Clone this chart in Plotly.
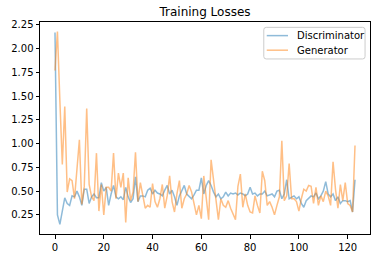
import plotly.graph_objects as go

epochs = list(range(124))

discriminator = [
    2.17, 0.25, 0.15, 0.28, 0.43, 0.37, 0.35, 0.45, 0.44, 0.50,
    0.44, 0.35, 0.52, 0.52, 0.37, 0.44, 0.47, 0.43, 0.43, 0.59,
    0.50, 0.54, 0.35, 0.47, 0.56, 0.44, 0.42, 0.44, 0.41, 0.54,
    0.44, 0.38, 0.42, 0.65, 0.39, 0.45, 0.45, 0.44, 0.51, 0.53,
    0.47, 0.51, 0.48, 0.47, 0.45, 0.51, 0.56, 0.47, 0.51, 0.44,
    0.35, 0.45, 0.50, 0.56, 0.47, 0.45, 0.42, 0.46, 0.51, 0.51,
    0.64, 0.47, 0.56, 0.61, 0.56, 0.49, 0.44, 0.47, 0.42, 0.44,
    0.49, 0.45, 0.48, 0.47, 0.48, 0.46, 0.48, 0.47, 0.45, 0.47,
    0.54, 0.47, 0.48, 0.45, 0.47, 0.47, 0.50, 0.45, 0.46, 0.47,
    0.44, 0.50, 0.51, 0.42, 0.47, 0.62, 0.42, 0.44, 0.45, 0.42,
    0.44, 0.37, 0.33, 0.40, 0.42, 0.45, 0.44, 0.48, 0.42, 0.45,
    0.50, 0.60, 0.47, 0.44, 0.47, 0.40, 0.44, 0.37, 0.40, 0.40,
    0.39, 0.40, 0.28, 0.62,
]

generator = [
    1.77, 2.18, 1.45, 0.78, 1.39, 0.49, 0.63, 0.61, 0.42, 0.74,
    1.04, 0.36, 0.55, 1.37, 0.57, 0.44, 0.40, 0.90, 0.29, 0.57,
    0.25, 0.54, 0.54, 0.50, 0.90, 0.42, 0.69, 0.54, 0.69, 0.17,
    0.64, 0.40, 0.49, 0.91, 0.39, 0.59, 0.45, 0.32, 0.35, 0.33,
    0.58, 0.39, 0.33, 0.42, 0.57, 0.32, 0.45, 0.66, 0.39, 0.28,
    0.47, 0.61, 0.32, 0.42, 0.47, 0.56, 0.49, 0.37, 0.25, 0.35,
    0.21, 0.66, 0.42, 0.20, 0.83, 0.62, 0.45, 0.20, 0.42, 0.35,
    0.33, 0.40, 0.32, 0.25, 0.20, 0.55, 0.68, 0.33, 0.47, 0.35,
    0.28, 0.27, 0.45, 0.35, 0.27, 0.71, 0.61, 0.35, 0.39, 0.33,
    0.25, 0.35, 0.44, 1.03, 0.40, 0.45, 0.79, 0.42, 0.42, 0.39,
    0.29, 0.42, 0.52, 0.50, 0.56, 0.55, 0.37, 0.54, 0.35, 0.45,
    0.39, 0.50, 0.45, 0.35, 0.81, 0.52, 0.32, 0.57, 0.40, 0.59,
    0.37, 0.35, 0.28, 0.98,
]

series_names = ["Discriminator", "Generator"]
series_colors = ["rgba(31,119,180,0.5)", "rgba(255,127,14,0.5)"]

y_ticks = [0.25, 0.50, 0.75, 1.00, 1.25, 1.50, 1.75, 2.00, 2.25]
x_ticks = [0, 20, 40, 60, 80, 100, 120]

fig = go.Figure()
for name, vals, col in zip(series_names, [discriminator, generator], series_colors):
    fig.add_trace(go.Scatter(x=epochs, y=vals, mode="lines", name=name,
                             line=dict(color=col, width=1.5), showlegend=False))

n = len(epochs) - 1
all_vals = discriminator + generator
ymin, ymax = min(all_vals), max(all_vals)
ypad = (ymax - ymin) * 0.05

axis_common = dict(showline=True, linecolor="black", linewidth=1, mirror=True,
                   ticks="outside", ticklen=3.5, tickwidth=1, tickcolor="black",
                   showgrid=False, zeroline=False,
                   tickfont=dict(family="DejaVu Sans", size=10, color="black"))

# plot area geometry (pixels) used for a matplotlib-like legend box
W, H = 382, 264
ml, mr, mt, mb = 37, 11, 22, 24
pw, ph = W - ml - mr, H - mt - mb


def px(x):
    return (x - ml) / pw


def py(y):
    return (H - mb - y) / ph


# legend frame with rounded corners
bx0, bx1, by0, by1 = 263.5, 366, 27.5, 60
r = 2.5
rx, ry = r / pw, r / ph
X0, X1, Y0, Y1 = px(bx0), px(bx1), py(by0), py(by1)
path = (f"M {X0+rx},{Y0} L {X1-rx},{Y0} Q {X1},{Y0} {X1},{Y0-ry} "
        f"L {X1},{Y1+ry} Q {X1},{Y1} {X1-rx},{Y1} "
        f"L {X0+rx},{Y1} Q {X0},{Y1} {X0},{Y1+ry} "
        f"L {X0},{Y0-ry} Q {X0},{Y0} {X0+rx},{Y0} Z")
shapes = [dict(type="path", xref="paper", yref="paper", path=path,
               line=dict(color="#cccccc", width=1), fillcolor="rgba(255,255,255,0.8)",
               layer="above")]
annotations = []
for k, (name, col) in enumerate(zip(series_names, series_colors)):
    yy = 36 + 15 * k
    shapes.append(dict(type="line", xref="paper", yref="paper",
                       x0=px(266.5), x1=px(288), y0=py(yy), y1=py(yy),
                       line=dict(color=col, width=1.5), layer="above"))
    annotations.append(dict(text=name, xref="paper", yref="paper", x=px(295.5), y=py(yy),
                            xanchor="left", yanchor="middle", showarrow=False,
                            font=dict(family="DejaVu Sans", size=10, color="black")))

fig.update_layout(
    width=W, height=H,
    margin=dict(l=ml, r=mr, t=mt, b=mb),
    paper_bgcolor="white", plot_bgcolor="white",
    title=dict(text="Training Losses", x=0.5, xref="paper", xanchor="center",
               y=1, yref="paper", yanchor="bottom", pad=dict(b=6),
               font=dict(family="DejaVu Sans", size=12, color="black")),
    xaxis=dict(range=[-n * 0.05, n * 1.05], tickvals=x_ticks, **axis_common),
    yaxis=dict(range=[ymin - ypad, ymax + ypad], tickvals=y_ticks, tickformat=".2f", **axis_common),
    shapes=shapes,
    annotations=annotations,
    showlegend=False,
)

fig.write_html("out.html")
